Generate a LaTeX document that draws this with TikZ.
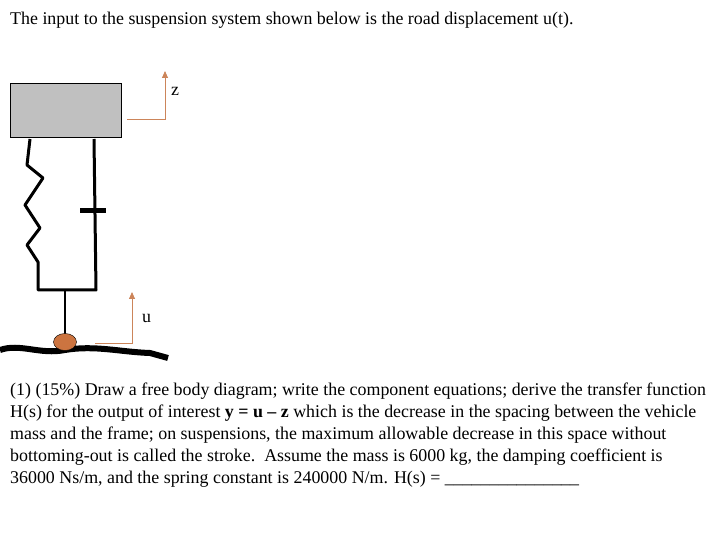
\documentclass[tikz,border=0pt]{standalone}
\usepackage{fontspec}
\setmainfont{Liberation Serif}
\usetikzlibrary{shapes.geometric,arrows.meta}
\begin{document}
\begin{tikzpicture}[x=1pt,y=-1pt,
  txt/.style={anchor=base west,inner sep=0pt,font=\fontsize{17.9}{20}\selectfont},
  ind/.style={draw={rgb,255:red,204;green,133;blue,90},line width=0.8pt},
  mech/.style={line width=3pt,line join=round}]
\useasboundingbox (0,0) rectangle (713,537);
\node[txt] (t0) at (10,25) {The input to the suspension system shown below is the road displacement u(t).};
\node[draw,line width=1pt,fill={rgb,255:red,192;green,192;blue,192},minimum width=111pt,minimum height=54pt,inner sep=0pt] (mass) at (65.5,111) {};
\draw[mech] (30,139)--(27,165)--(43,178)--(25,205)--(40,228)--(27,245)--(38,262)--(38,290)--(96,290)--(94,139);
\draw[line width=5pt] (80,211)--(106,211);
\draw[line width=2pt] (65,290)--(65,334);
\draw[line width=6pt] (0,350) .. controls (20,343) and (40,355) .. (65,350) .. controls (95,345) and (120,352) .. (150,353) -- (168,358);
\node[draw,fill={rgb,255:red,204;green,116;blue,64},ellipse,minimum width=23pt,minimum height=17pt,inner sep=0pt] (ball) at (65,342) {};
\coordinate (z0) at (127,119); \coordinate (z1) at (165,119); \coordinate (z2) at (165,71);
\draw[ind,-{Triangle[width=6pt,length=7pt]}] (z0)--(z1)--(z2);
\node[txt] (zl) at (171,96) {z};
\coordinate (u0) at (95,343); \coordinate (u1) at (132,343); \coordinate (u2) at (132,292);
\draw[ind,-{Triangle[width=6pt,length=7pt]}] (u0)--(u1)--(u2);
\node[txt] (ul) at (142,323) {u};
\node[txt] (p1) at (10,396) {(1) (15\%) Draw a free body diagram; write the component equations; derive the transfer function};
\node[txt] (p2) at (10,418) {H(s) for the output of interest \textbf{y = u – z} which is the decrease in the spacing between the vehicle};
\node[txt] (p3) at (10,440) {mass and the frame; on suspensions, the maximum allowable decrease in this space without};
\node[txt] (p4) at (10,462) {bottoming-out is called the stroke.\ \ Assume the mass is 6000 kg, the damping coefficient is};
\node[txt] (p5) at (10,484) {36000 Ns/m, and the spring constant is 240000 N/m. H(s) = \_\_\_\_\_\_\_\_\_\_\_\_\_\_\_};
\end{tikzpicture}
\end{document}
